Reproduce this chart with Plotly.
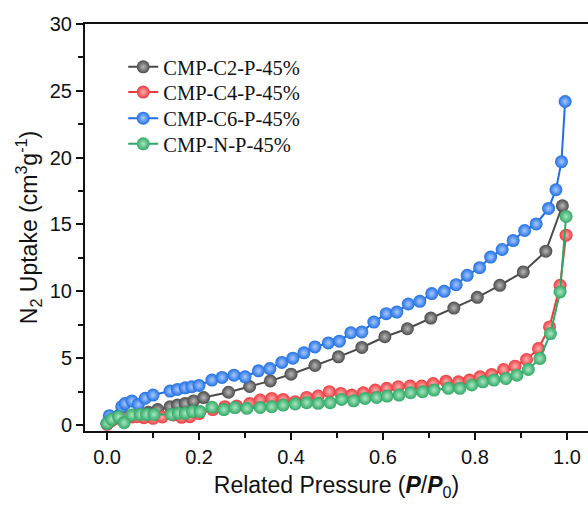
import plotly.graph_objects as go

# ---- data ----
c2_x = [0.0, 0.01, 0.03, 0.05, 0.07, 0.09, 0.11, 0.137, 0.153, 0.17, 0.188, 0.21, 0.264, 0.31, 0.355,
        0.40, 0.452, 0.503, 0.554, 0.604, 0.653, 0.704, 0.754, 0.805, 0.854, 0.905, 0.954, 0.99]
c2_y = [0.1, 0.35, 0.5, 0.65, 0.8, 0.95, 1.15, 1.37, 1.49, 1.61, 1.8, 2.05, 2.45, 2.88, 3.3,
        3.8, 4.45, 5.1, 5.8, 6.6, 7.2, 8.0, 8.75, 9.55, 10.45, 11.45, 13.0, 16.4]

c4_x = [0.0, 0.01, 0.025, 0.04, 0.055, 0.064, 0.08, 0.10, 0.12, 0.144, 0.162, 0.18, 0.2, 0.23, 0.256,
        0.282, 0.31, 0.333, 0.358, 0.383, 0.409, 0.434, 0.459, 0.483, 0.508, 0.532, 0.557, 0.583,
        0.608, 0.633, 0.659, 0.684, 0.709, 0.737, 0.764, 0.788, 0.811, 0.836, 0.862, 0.887, 0.912,
        0.938, 0.962, 0.985, 0.998]
c4_y = [0.05, 0.35, 0.5, 0.55, 0.6, 0.62, 0.55, 0.5, 0.6, 0.75, 0.57, 0.62, 0.85, 1.15, 1.37,
        1.42, 1.6, 1.87, 1.99, 1.91, 1.74, 2.06, 2.16, 2.49, 2.36, 2.24, 2.41, 2.61,
        2.74, 2.86, 2.91, 2.91, 3.1, 3.28, 3.23, 3.36, 3.6, 3.78, 4.15, 4.4, 4.9,
        5.72, 7.34, 10.45, 14.2]

c6_x = [0.0, 0.005, 0.032, 0.039, 0.054, 0.068, 0.083, 0.10, 0.137, 0.153, 0.17, 0.184, 0.20, 0.228,
        0.25, 0.276, 0.30, 0.329, 0.354, 0.38, 0.404, 0.428, 0.452, 0.481, 0.505, 0.53, 0.554, 0.58,
        0.607, 0.63, 0.655, 0.68, 0.706, 0.733, 0.759, 0.783, 0.81, 0.834, 0.859, 0.883, 0.908,
        0.933, 0.96, 0.976, 0.988, 0.996]
c6_y = [0.13, 0.7, 1.37, 1.6, 1.8, 1.54, 2.0, 2.24, 2.54, 2.66, 2.78, 2.86, 2.96, 3.36,
        3.56, 3.73, 3.6, 4.05, 4.22, 4.68, 5.0, 5.4, 5.84, 6.14, 6.27, 6.9, 6.96, 7.7,
        8.33, 8.45, 9.05, 9.25, 9.83, 10.0, 10.5, 11.2, 11.77, 12.56, 13.13, 13.8, 14.55,
        15.04, 16.2, 17.6, 19.7, 24.2]

n_x = [0.0, 0.01, 0.025, 0.037, 0.054, 0.072, 0.086, 0.102, 0.14, 0.155, 0.17, 0.186, 0.202, 0.228,
       0.254, 0.278, 0.304, 0.333, 0.358, 0.383, 0.409, 0.434, 0.459, 0.485, 0.51, 0.536, 0.561,
       0.586, 0.609, 0.635, 0.66, 0.686, 0.711, 0.742, 0.767, 0.793, 0.817, 0.841, 0.867, 0.891,
       0.916, 0.941, 0.964, 0.985, 0.998]
n_y = [0.12, 0.42, 0.62, 0.17, 0.75, 0.79, 0.79, 0.79, 0.79, 0.87, 0.87, 1.0, 1.0, 1.33,
       1.15, 1.3, 1.25, 1.31, 1.37, 1.49, 1.57, 1.67, 1.62, 1.67, 1.91, 1.81, 1.99,
       2.06, 2.16, 2.24, 2.41, 2.49, 2.61, 2.74, 2.74, 2.99, 3.23, 3.36, 3.48, 3.73,
       4.15, 4.98, 6.84, 9.95, 15.6]

names = ["CMP-C2-P-45%", "CMP-C4-P-45%", "CMP-C6-P-45%", "CMP-N-P-45%"]
colors = ["#4a4a4a", "#ec3b3f", "#1f6fe3", "#2fa865"]
highlights = ["#b8b8b8", "#ffb0b0", "#a8c8ff", "#a8e6c0"]
xs = [c2_x, c4_x, c6_x, n_x]
ys = [c2_y, c4_y, c6_y, n_y]
legend_ids = ["legend", "legend2", "legend3", "legend4"]
legend_rows = [0.8943, 0.8322, 0.7683, 0.7052]

fig = go.Figure()
for name, color, hl, x, y, lid in zip(names, colors, highlights, xs, ys, legend_ids):
    fig.add_trace(go.Scatter(
        x=x, y=y, name=name, mode="lines+markers", legend=lid,
        line=dict(color=color, width=2),
        marker=dict(size=13, color=color, line=dict(width=0),
                    gradient=dict(type="radial", color=hl)),
    ))

legend_font = dict(family="Liberation Serif, Times New Roman, serif", size=20.5, color="#111111")
legends = {}
for lid, ly in zip(legend_ids, legend_rows):
    legends[lid] = dict(x=0.076, y=ly, xanchor="left", yanchor="middle",
                        font=legend_font, bgcolor="rgba(0,0,0,0)", borderwidth=0)

axis_font = dict(family="Liberation Sans, Arial, sans-serif", size=20, color="#111111")

fig.update_layout(
    width=588, height=506,
    margin=dict(l=85, r=0, t=24, b=75),
    paper_bgcolor="white", plot_bgcolor="white",
    showlegend=True,
    **legends,
    xaxis=dict(
        range=[-0.048, 1.0457], tickvals=[0.0, 0.2, 0.4, 0.6, 0.8, 1.0],
        ticktext=["0.0", "0.2", "0.4", "0.6", "0.8", "1.0"],
        showgrid=False, zeroline=False,
        showline=True, linecolor="#111111", linewidth=2, mirror=True,
        ticks="outside", ticklen=7, tickwidth=1.8, tickcolor="#111111",
        minor=dict(tickvals=[0.1, 0.3, 0.5, 0.7, 0.9], ticks="outside", ticklen=5,
                   tickwidth=1.8, tickcolor="#111111"),
        tickfont=axis_font,
        title=dict(text="Related Pressure (<b><i>P</i></b>/<b><i>P</i></b><sub>0</sub>)",
                   font=dict(family="Liberation Sans, Arial, sans-serif", size=23, color="#111111"),
                   standoff=10),
    ),
    yaxis=dict(
        range=[-0.45, 30], tickvals=[0, 5, 10, 15, 20, 25, 30],
        showgrid=False, zeroline=False,
        showline=True, linecolor="#111111", linewidth=2, mirror=False,
        ticks="outside", ticklen=7, tickwidth=1.8, tickcolor="#111111",
        minor=dict(tickvals=[2.5, 7.5, 12.5, 17.5, 22.5, 27.5], ticks="outside", ticklen=5,
                   tickwidth=1.8, tickcolor="#111111"),
        tickfont=axis_font,
        title=dict(text="N<sub>2</sub> Uptake (cm<sup>3</sup>g<sup>-1</sup>)",
                   font=dict(family="Liberation Sans, Arial, sans-serif", size=23, color="#111111"),
                   standoff=6),
    ),
)

fig.write_html("out.html")
